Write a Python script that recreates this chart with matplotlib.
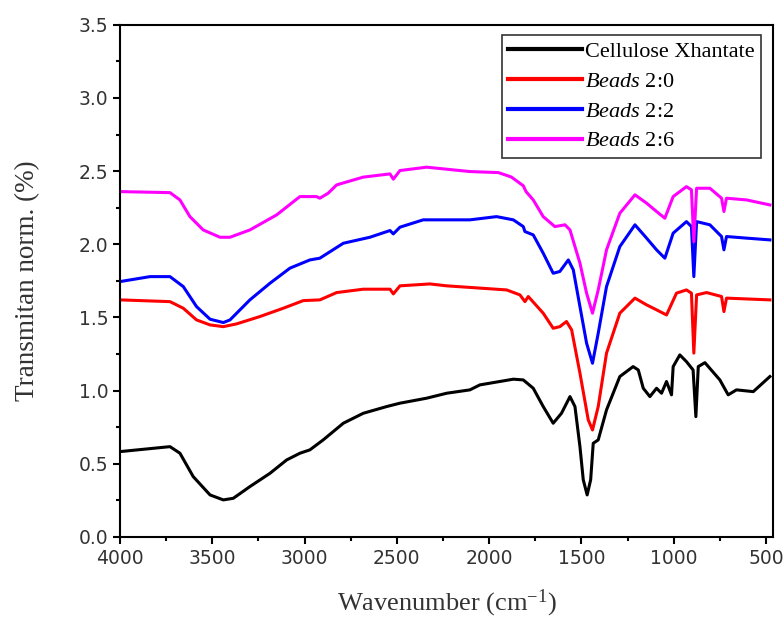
import matplotlib
matplotlib.use('Agg')
import matplotlib.pyplot as plt
from matplotlib.ticker import MultipleLocator

wn_xan = [4000, 3729, 3675, 3603, 3512, 3440, 3386, 3296, 3187, 3097, 3025,
          2971, 2899, 2790, 2682, 2555, 2483, 2339, 2230, 2104, 2050, 1869,
          1815, 1761, 1707, 1653, 1608, 1562, 1535, 1508, 1490, 1469, 1450,
          1436, 1409, 1364, 1292, 1220, 1192, 1165, 1129, 1093, 1066, 1039,
          1012, 1003, 967, 931, 895, 880, 867, 831, 750, 705, 660, 569, 479]
t_xan = [0.583, 0.617, 0.572, 0.412, 0.287, 0.253, 0.264, 0.344, 0.435, 0.526,
         0.572, 0.595, 0.663, 0.777, 0.845, 0.891, 0.914, 0.948, 0.982, 1.005,
         1.039, 1.078, 1.073, 1.016, 0.891, 0.777, 0.845, 0.959, 0.891, 0.617,
         0.390, 0.287, 0.390, 0.640, 0.663, 0.868, 1.096, 1.164, 1.141, 1.016,
         0.959, 1.016, 0.982, 1.062, 0.971, 1.164, 1.244, 1.198, 1.141, 0.822,
         1.164, 1.191, 1.073, 0.971, 1.005, 0.993, 1.096]

wn_b20 = [4000, 3729, 3657, 3585, 3512, 3440, 3368, 3242, 3115, 3007, 2917,
          2826, 2682, 2537, 2519, 2483, 2321, 2230, 1905, 1833, 1806, 1788,
          1707, 1653, 1617, 1581, 1553, 1508, 1463, 1440, 1409, 1364, 1292,
          1210, 1147, 1093, 1039, 985, 931, 904, 891, 876, 822, 741, 728, 714,
          479]
t_b20 = [1.620, 1.608, 1.563, 1.483, 1.449, 1.437, 1.456, 1.506, 1.563, 1.615,
         1.620, 1.670, 1.693, 1.693, 1.661, 1.716, 1.729, 1.716, 1.688, 1.654,
         1.608, 1.643, 1.529, 1.426, 1.437, 1.472, 1.415, 1.119, 0.800, 0.731,
         0.891, 1.256, 1.529, 1.632, 1.586, 1.552, 1.517, 1.666, 1.688, 1.666,
         1.256, 1.654, 1.670, 1.643, 1.540, 1.632, 1.620]

wn_b22 = [4000, 3837, 3729, 3657, 3585, 3512, 3440, 3404, 3296, 3187, 3079,
          2971, 2917, 2790, 2646, 2537, 2519, 2483, 2357, 2230, 2104, 1960,
          1869, 1815, 1806, 1761, 1707, 1653, 1617, 1571, 1544, 1508, 1472,
          1440, 1409, 1364, 1292, 1210, 1147, 1093, 1048, 1003, 931, 904, 891,
          876, 804, 741, 728, 714, 605, 479]
t_b22 = [1.745, 1.779, 1.779, 1.711, 1.574, 1.488, 1.465, 1.483, 1.620, 1.734,
         1.837, 1.893, 1.905, 2.007, 2.048, 2.094, 2.071, 2.117, 2.167, 2.167,
         2.167, 2.189, 2.167, 2.121, 2.087, 2.064, 1.939, 1.802, 1.814, 1.893,
         1.825, 1.574, 1.324, 1.187, 1.392, 1.711, 1.984, 2.133, 2.042, 1.962,
         1.905, 2.076, 2.155, 2.121, 1.779, 2.155, 2.133, 2.053, 1.962, 2.053,
         2.042, 2.030]

wn_b26 = [4000, 3729, 3675, 3621, 3549, 3458, 3404, 3296, 3151, 3025, 2935,
          2917, 2872, 2826, 2682, 2537, 2519, 2483, 2339, 2104, 1950, 1880,
          1815, 1800, 1761, 1707, 1644, 1589, 1562, 1508, 1472, 1440, 1409,
          1364, 1292, 1210, 1147, 1093, 1048, 1003, 931, 904, 891, 876, 804,
          741, 728, 714, 605, 479]
t_b26 = [2.360, 2.353, 2.303, 2.189, 2.098, 2.048, 2.048, 2.098, 2.201, 2.326,
         2.326, 2.315, 2.349, 2.406, 2.459, 2.481, 2.445, 2.504, 2.527, 2.497,
         2.490, 2.460, 2.400, 2.360, 2.303, 2.189, 2.121, 2.133, 2.098, 1.871,
         1.666, 1.529, 1.688, 1.962, 2.212, 2.338, 2.281, 2.224, 2.178, 2.326,
         2.394, 2.372, 2.018, 2.383, 2.383, 2.315, 2.224, 2.315, 2.303, 2.269]

labels = ['Cellulose Xhantate', '$\\it{Beads}$ 2:0', '$\\it{Beads}$ 2:2',
          '$\\it{Beads}$ 2:6']
colors = ['black', '#ff0000', '#0000ff', '#ff00ff']

plt.rcParams['mathtext.fontset'] = 'custom'
plt.rcParams['mathtext.rm'] = 'Liberation Serif'
plt.rcParams['mathtext.it'] = 'Liberation Serif:italic'

fig = plt.figure(figsize=(7.84, 6.2), dpi=100)
ax = fig.add_axes([0.153, 0.134, 0.833, 0.826])

series = [(wn_xan, t_xan), (wn_b20, t_b20), (wn_b22, t_b22), (wn_b26, t_b26)]
for (wn, t), lab, c in zip(series, labels, colors):
    ax.plot(wn, t, color=c, linewidth=2.2, label=lab)

ax.set_xlim(4000, 462)
ax.set_ylim(0, 3.5)
ax.xaxis.set_major_locator(MultipleLocator(500))
ax.xaxis.set_minor_locator(MultipleLocator(250))
ax.yaxis.set_major_locator(MultipleLocator(0.5))
ax.yaxis.set_minor_locator(MultipleLocator(0.25))
ax.tick_params(which='major', direction='out', length=5, width=1.5,
               labelsize=13.5, labelcolor='#333333')
ax.tick_params(which='minor', direction='out', length=3, width=1.5)
for s in ax.spines.values():
    s.set_linewidth(1.5)

ax.set_xlabel('Wavenumber (cm$^{-1}$)', fontsize=19, family='Liberation Serif',
              color='#333333', labelpad=14)
ax.set_ylabel('Transmitan norm. (%)', fontsize=19.5, family='Liberation Serif',
              color='#333333', labelpad=28)

leg = ax.legend(loc='upper right', bbox_to_anchor=(0.982, 0.981),
                prop={'family': 'Liberation Serif', 'size': 16},
                handlelength=3.3, handletextpad=0.15, labelspacing=0.42,
                borderaxespad=0, fancybox=False, framealpha=1,
                edgecolor='#333333', borderpad=0.3)
leg.get_frame().set_linewidth(1.2)
for h in leg.legend_handles:
    h.set_linewidth(3)

plt.savefig('out.png', dpi=100)
plt.close(fig)
